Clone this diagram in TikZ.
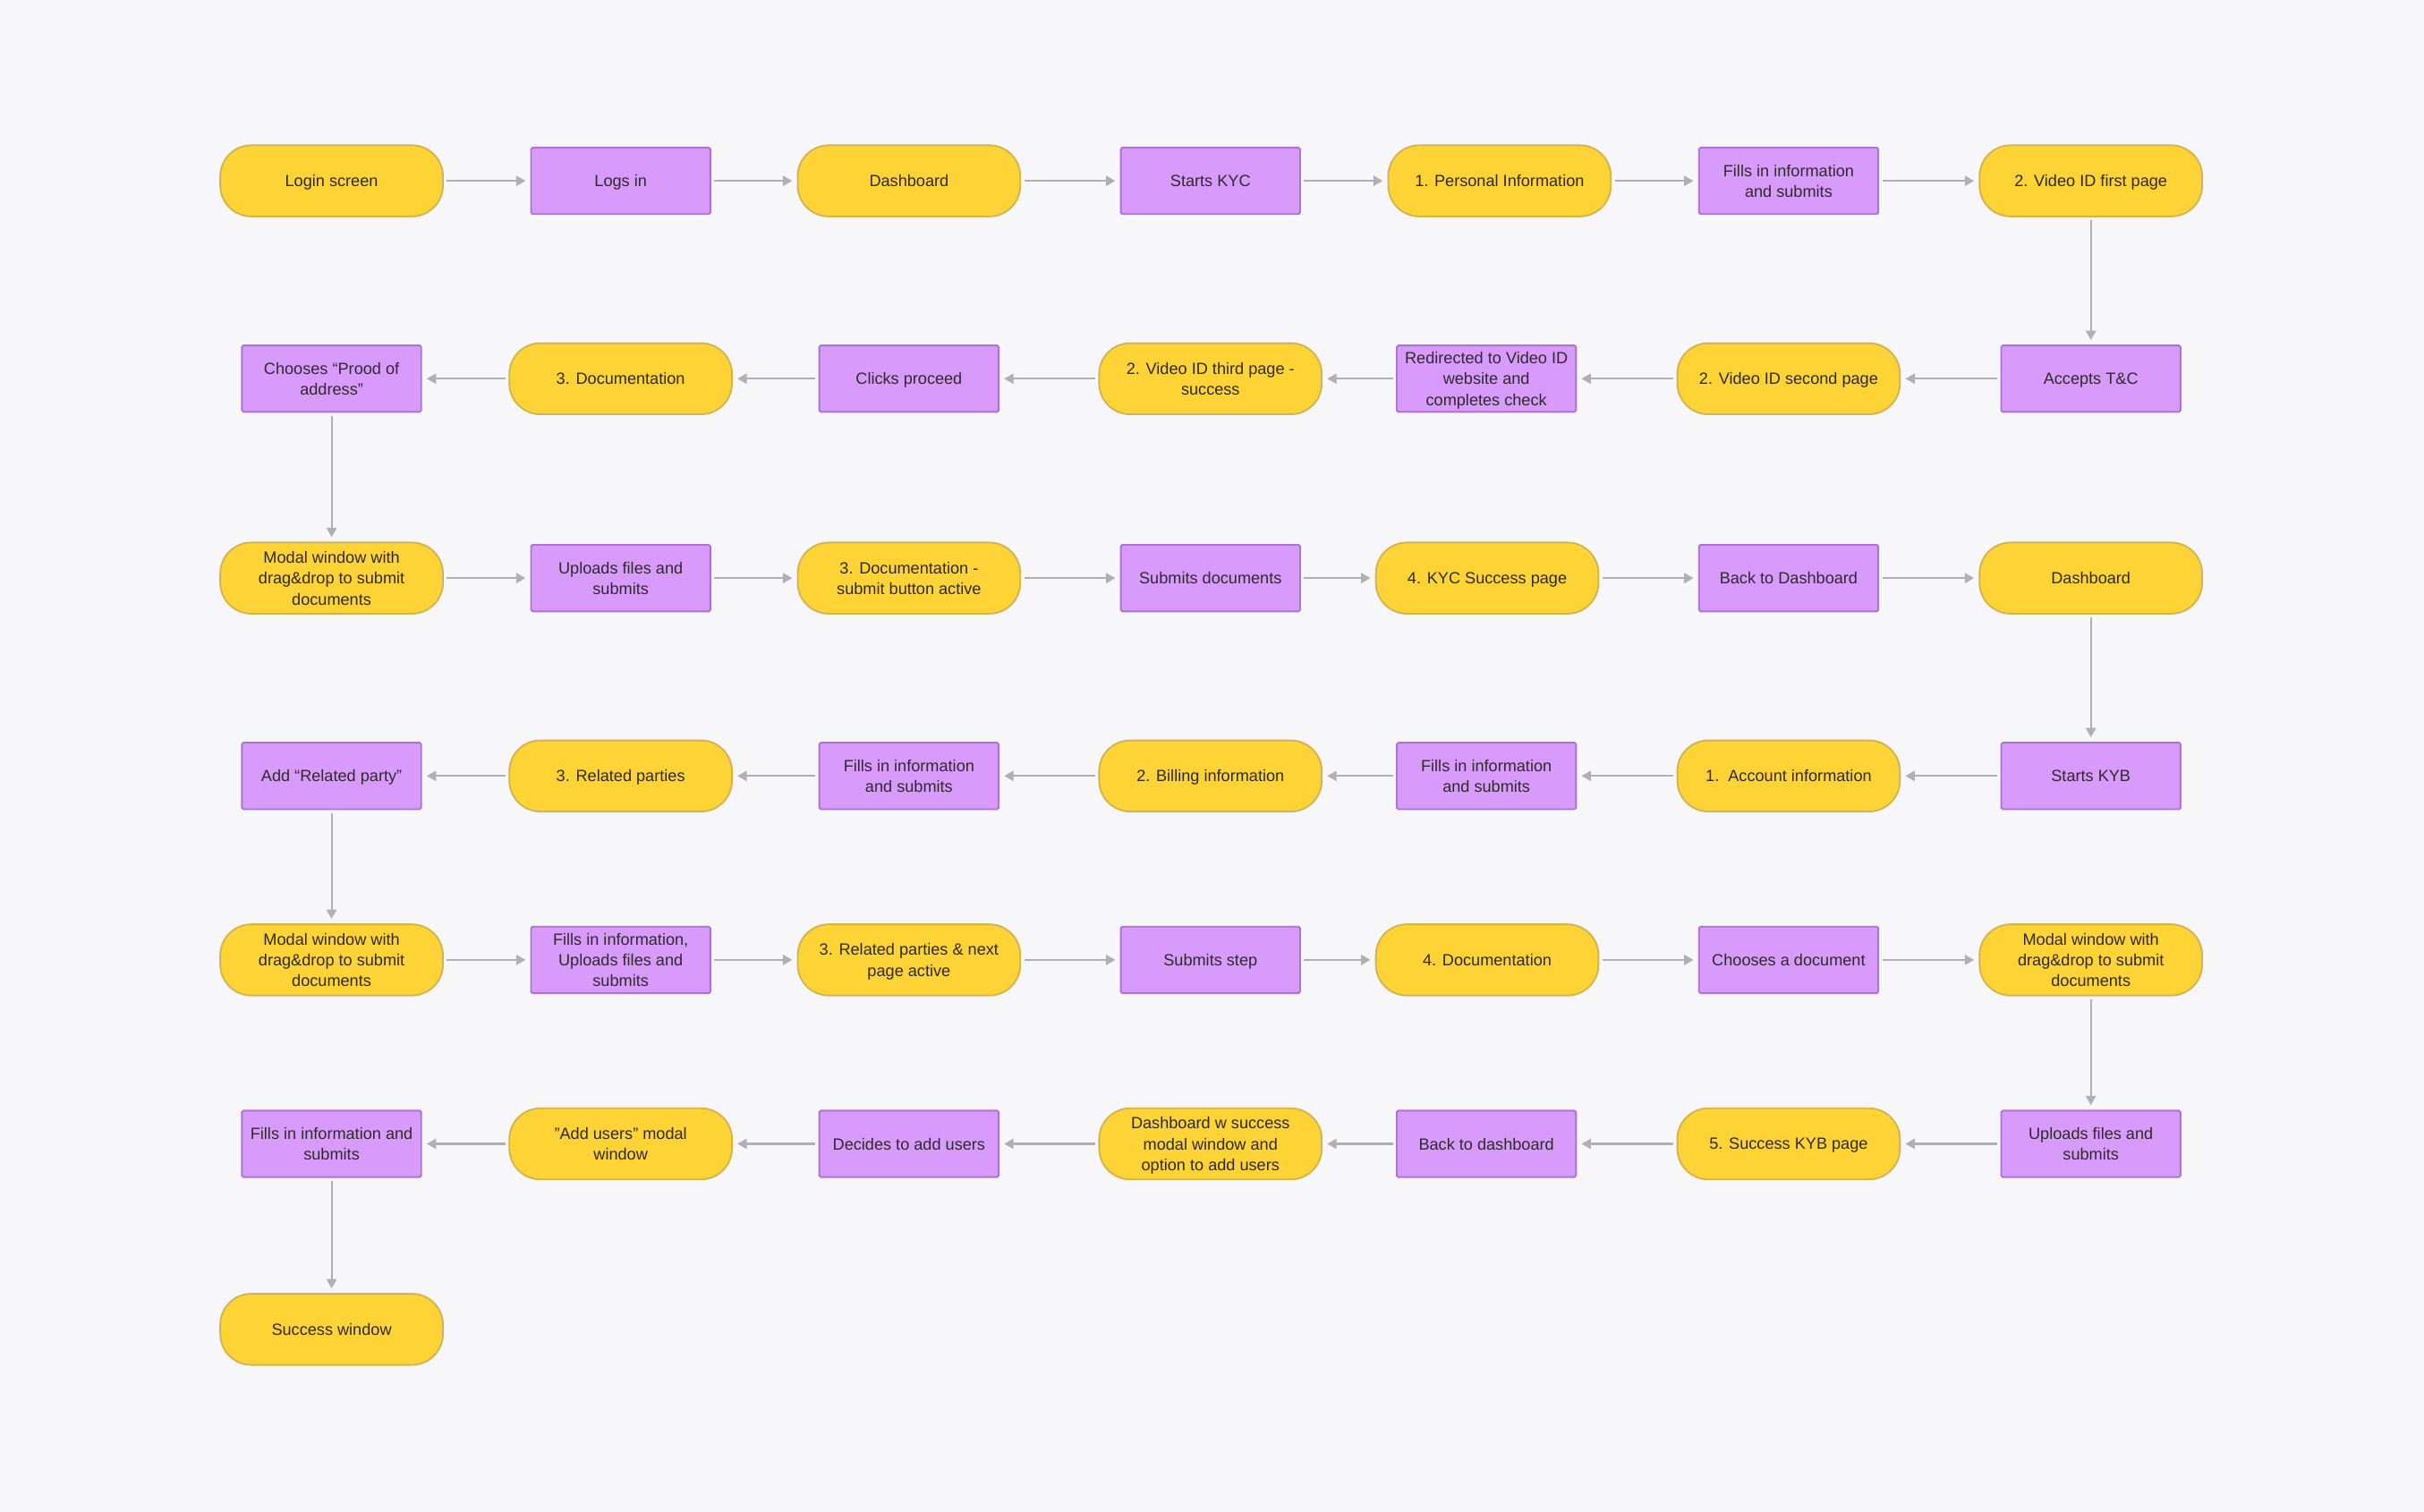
\documentclass[tikz,border=0pt]{standalone}
\usepackage{fontspec}
\setmainfont{Liberation Sans}
\usetikzlibrary{arrows.meta}
\definecolor{bgcol}{HTML}{F7F7F9}
\definecolor{yelfill}{HTML}{FDD335}
\definecolor{yeldraw}{HTML}{D2B452}
\definecolor{purfill}{HTML}{D89AFB}
\definecolor{purdraw}{HTML}{AE72D2}
\definecolor{arrcol}{HTML}{B0B0B2}
\definecolor{txtcol}{HTML}{2E2B2A}
\begin{document}
\begin{tikzpicture}[x=1pt,y=-1pt,
    every node/.style={font=\fontsize{10.5}{13.5}\selectfont, text=txtcol, align=center,
      inner sep=1pt, text depth=0pt},
    pill/.style={draw=yeldraw, fill=yelfill, line width=1.1pt, rounded corners=20pt,
      minimum width=144pt, minimum height=46pt},
    box/.style={draw=purdraw, fill=purfill, line width=1.1pt, rounded corners=1pt,
      minimum width=116pt, minimum height=43pt},
    flow/.style={draw=arrcol, line width=1.2pt, -{Triangle[length=6pt,width=6.5pt]},
      shorten <=2pt, shorten >=3pt}]
      \fill[bgcol] (0,0) rectangle (1568,978);
      \useasboundingbox (0,0) rectangle (1568,978);
      \draw
        (214.5,117) node[pill] (1){Login screen}
        (401.5,117) node[box] (2){Logs in}
        (588,117) node[pill] (3){Dashboard}
        (783,117) node[box] (4){Starts KYC}
        (970,117) node[pill] (5){1. Personal Information}
        (1157,117) node[box] (6){Fills in information\\and submits}
        (1352.5,117) node[pill] (7){2. Video ID first page};
      \draw
        (1352.5,245) node[box] (8){Accepts T\&C}
        (1157,245) node[pill] (9){2. Video ID second page}
        (961.5,245) node[box] (10){Redirected to Video ID\\website and\\completes check}
        (783,245) node[pill] (11){2. Video ID third page -\\success}
        (588,245) node[box] (12){Clicks proceed}
        (401.5,245) node[pill] (13){3. Documentation}
        (214.5,245) node[box] (14){Chooses “Prood of\\address”};
      \draw
        (214.5,374) node[pill] (15){Modal window with\\drag\&drop to submit\\documents}
        (401.5,374) node[box] (16){Uploads files and\\submits}
        (588,374) node[pill] (17){3. Documentation -\\submit button active}
        (783,374) node[box] (18){Submits documents}
        (962,374) node[pill] (19){4. KYC Success page}
        (1157,374) node[box] (20){Back to Dashboard}
        (1352.5,374) node[pill] (21){Dashboard};
      \draw
        (1352.5,502) node[box] (22){Starts KYB}
        (1157,502) node[pill] (23){1.\ \ Account information}
        (961.5,502) node[box] (24){Fills in information\\and submits}
        (783,502) node[pill] (25){2. Billing information}
        (588,502) node[box] (26){Fills in information\\and submits}
        (401.5,502) node[pill] (27){3. Related parties}
        (214.5,502) node[box] (28){Add “Related party”};
      \draw
        (214.5,621) node[pill] (29){Modal window with\\drag\&drop to submit\\documents}
        (401.5,621) node[box] (30){Fills in information,\\Uploads files and\\submits}
        (588,621) node[pill] (31){3. Related parties \& next\\page active}
        (783,621) node[box] (32){Submits step}
        (962,621) node[pill] (33){4. Documentation}
        (1157,621) node[box] (34){Chooses a document}
        (1352.5,621) node[pill] (35){Modal window with\\drag\&drop to submit\\documents};
      \draw
        (1352.5,740) node[box] (36){Uploads files and\\submits}
        (1157,740) node[pill] (37){5. Success KYB page}
        (961.5,740) node[box] (38){Back to dashboard}
        (783,740) node[pill] (39){Dashboard w success\\modal window and\\option to add users}
        (588,740) node[box] (40){Decides to add users}
        (401.5,740) node[pill] (41){"Add users" modal\\window}
        (214.5,740) node[box] (42){Fills in information and\\submits};
      \draw
        (214.5,860) node[pill] (43){Success window};
      \begin{scope}[flow]
        \draw (1) to (2);
        \draw (2) to (3);
        \draw (3) to (4);
        \draw (4) to (5);
        \draw (5) to (6);
        \draw (6) to (7);
        \draw (7) to (8);
        \draw (8) to (9);
        \draw (9) to (10);
        \draw (10) to (11);
        \draw (11) to (12);
        \draw (12) to (13);
        \draw (13) to (14);
        \draw (14) to (15);
        \draw (15) to (16);
        \draw (16) to (17);
        \draw (17) to (18);
        \draw (18) to (19);
        \draw (19) to (20);
        \draw (20) to (21);
        \draw (21) to (22);
        \draw (22) to (23);
        \draw (23) to (24);
        \draw (24) to (25);
        \draw (25) to (26);
        \draw (26) to (27);
        \draw (27) to (28);
        \draw (28) to (29);
        \draw (29) to (30);
        \draw (30) to (31);
        \draw (31) to (32);
        \draw (32) to (33);
        \draw (33) to (34);
        \draw (34) to (35);
        \draw (35) to (36);
        \draw (36) to (37);
        \draw (37) to (38);
        \draw (38) to (39);
        \draw (39) to (40);
        \draw (40) to (41);
        \draw (41) to (42);
        \draw (42) to (43);
      \end{scope}
    \end{tikzpicture}
\end{document}
